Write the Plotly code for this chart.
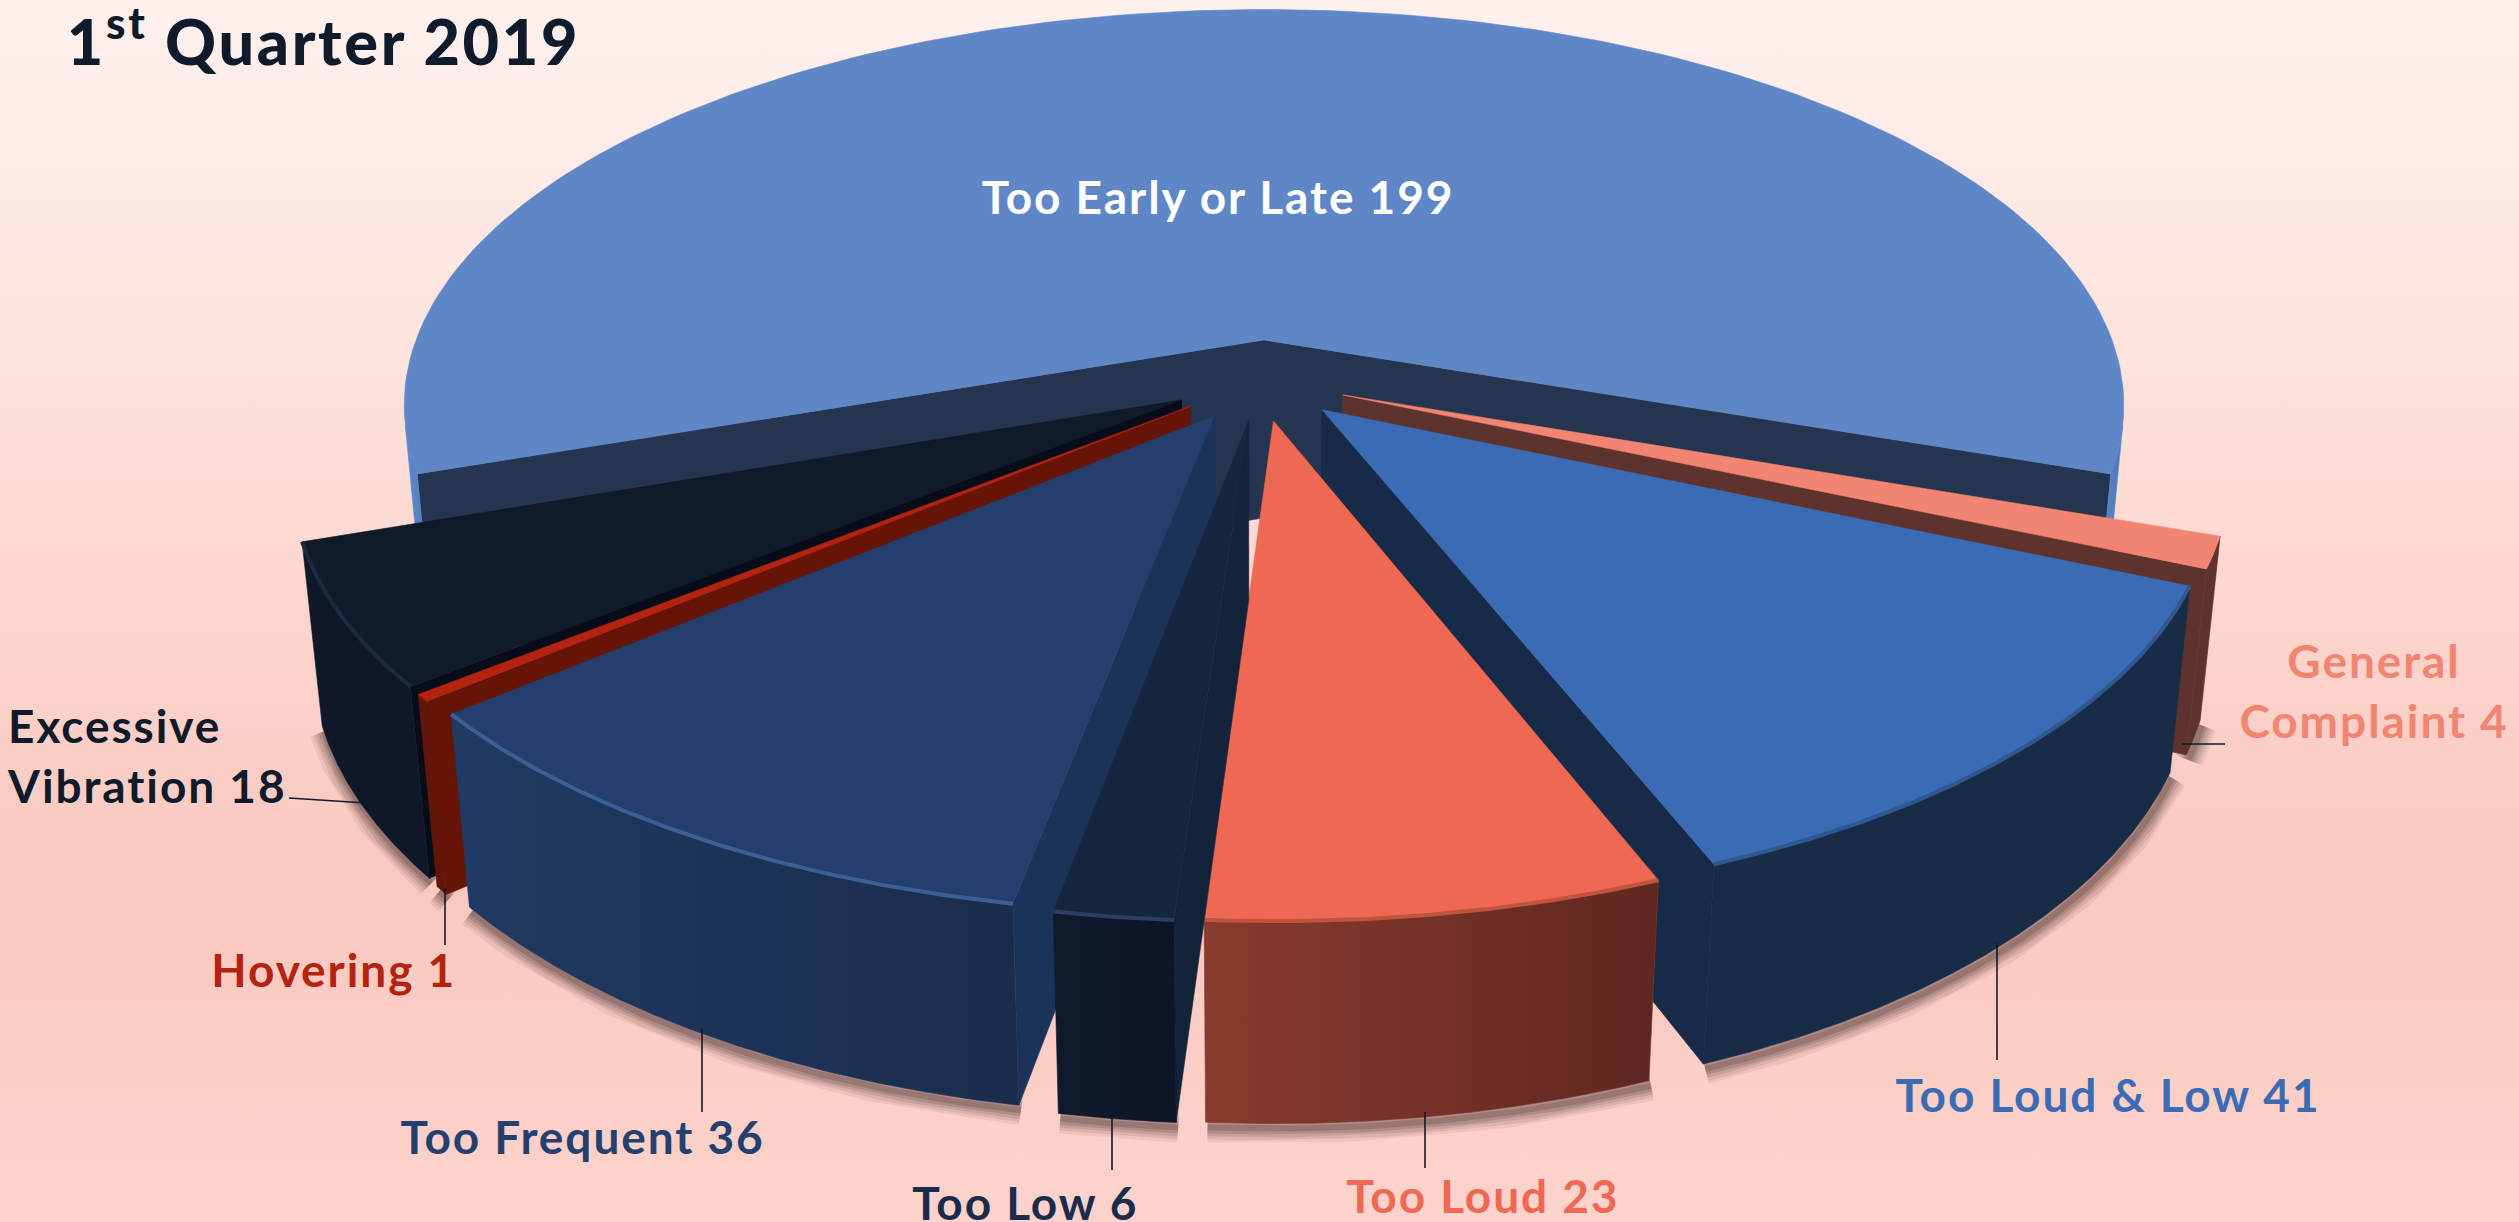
#!/usr/bin/env python

"""3D exploded pie of complaints, 1st quarter 2019, drawn as projected polygons."""

import numpy as np
import plotly.graph_objects as go

W, H = 2519, 1222

# data, clockwise from the big slice
categories = ["Too Early or Late", "General Complaint", "Too Loud & Low", "Too Loud",
              "Too Low", "Too Frequent", "Hovering", "Excessive Vibration"]
values = [199, 4, 41, 23, 6, 36, 1, 18]

# styles per slice
explode = [0, 0.105, 0.105, 0.105, 0.105, 0.105, 0.105, 0.105]
drop = [0, 0.053, 0.053, 0.053, 0.053, 0.053, 0.053, 0.053]
radius = [1, 1.027, 1.027, 1.027, 1.027, 1.027, 1.027, 1.027]
nudge = [0, -0.005, -0.005, -0.005, -0.005, -0.005, -0.005, -0.005]
top_colors = ["#5F87C8", "#F28572", "#3B6BB4", "#EE6853", "#17263F", "#243F6E", "#B32310", "#0F1A2B"]
cut_colors = ["#25354F", "#5F332D", "#172B48", "#5F2A22", "#12233A", "#1B3358", "#651407", "#070D18"]
rim_colors = [("#5C8AD0", "#4F79B8"), ("#5F332D", "#5F332D"), ("#182B47", "#182B47"),
              ("#8A3B2F", "#5E2720"), ("#0F1A2D", "#0D1625"), ("#1F3A63", "#1A2C4B"),
              ("#64150A", "#64150A"), ("#0E1828", "#0E1828")]
edge_colors = [None, None, "#2F5790", "#C2533F", "#2A3F63", "#3C5F96", None, "#1A2A42"]
label_colors = ["#FFFFFF", "#F28572", "#3B6BB4", "#EE6853", "#1A2C4B", "#24406E", "#B32310", "#0F1A2B"]

# label text, centre position in page pixels, alignment
label_text = ["Too Early or Late 199", "General<br>Complaint 4", "Too Loud & Low 41", "Too Loud 23",
              "Too Low 6", "Too Frequent 36", "Hovering 1", "Excessive<br>Vibration 18"]
label_x = [1218, 2374, 2108, 1483, 1025, 582, 333, 5]
label_y = [196, 690, 1094, 1195, 1202, 1136, 969, 755]
label_anchor = ["center", "center", "center", "center", "center", "center", "center", "left"]

# leader lines in page pixels
leaders = [((289, 798), (366, 803)), ((445, 888), (445, 945)), ((702, 1028), (702, 1112)),
           ((1112, 1113), (1112, 1170)), ((1425, 1112), (1425, 1168)),
           ((1997, 943), (1997, 1060)), ((2182, 744), (2225, 744))]

# camera
CX, CY = 1264, 340
D, TILT = 5.4, np.radians(27)
F = 848 * D
THICK = 0.24
S, C = np.sin(TILT), np.cos(TILT)


def project(x, y, z):
    d = D + y * C - z * S
    return CX + F * x / d, CY - F * (y * S + z * C) / d


def area(px, py):
    return 0.5 * np.sum(px * np.roll(py, -1) - np.roll(px, -1) * py)


fig = go.Figure()


def poly(px, py, color, grad=None):
    kw = {}
    if grad:
        kw["fillgradient"] = dict(type="horizontal", colorscale=[[0, grad[0]], [1, grad[1]]])
    else:
        kw["fillcolor"] = color
    fig.add_trace(go.Scatter(x=np.r_[px, px[0]], y=np.r_[py, py[0]], mode="lines", fill="toself",
                             line=dict(color=color, width=0.6), hoverinfo="skip", **kw))


# page background
fig.add_trace(go.Scatter(x=[0, W, W, 0, 0], y=[0, 0, H, H, 0], mode="lines", fill="toself",
                         line=dict(width=0), hoverinfo="skip",
                         fillgradient=dict(type="vertical", colorscale=[
                             [0, "#FDD3CC"], [0.28, "#FAC8BE"], [0.72, "#FEE3DE"], [1, "#FFF1EE"]])))

total = sum(values)
spans = np.array(values) / total * 2 * np.pi
start = -spans[0] / 2
slices = []
for i in range(len(values)):
    a0, a1 = start, start + spans[i]
    start = a1
    mid = (a0 + a1) / 2
    slices.append(dict(i=i, a0=a0, a1=a1, ox=explode[i] * np.sin(mid) + nudge[i], oy=explode[i] * np.cos(mid),
                       z=-drop[i], mid=mid, r=radius[i]))


def rim(s, n=160):
    a = np.linspace(s["a0"], s["a1"], n)
    return a, s["ox"] + s["r"] * np.sin(a), s["oy"] + s["r"] * np.cos(a)


# soft shadows on the floor
for s in slices[1:]:
    a, x, y = rim(s)
    vis = y < -0.05
    px, py = project(x[vis], y[vis], np.full(vis.sum(), s["z"] - THICK))
    for width, alpha in [(30, 0.07), (24, 0.10), (18, 0.13), (12, 0.16), (6, 0.2)]:
        fig.add_trace(go.Scatter(x=px + 2, y=py + 5, mode="lines", hoverinfo="skip",
                                 line=dict(color=f"rgba(60,35,35,{alpha})", width=width)))

# back slices first
order = [slices[0]] + sorted(slices[1:], key=lambda s: -abs(np.degrees(s["mid"] % (2 * np.pi)) - 180))
for s in order:
    i = s["i"]
    zt, zb = s["z"], s["z"] - THICK
    a, x, y = rim(s)

    # the two cut faces
    for k, sign in [(0, 1), (-1, -1)]:
        wx = np.array([s["ox"], x[k], x[k], s["ox"]])
        wy = np.array([s["oy"], y[k], y[k], s["oy"]])
        wz = np.array([zt, zt, zb, zb])
        px, py = project(wx, wy, wz)
        if sign * area(px, py) < 0:
            poly(px, py, cut_colors[i])

    # outer wall, only where it faces the camera
    facing = -(x - s["ox"]) * x - (y - s["oy"]) * (y + D * C) > 0
    idx = np.where(facing)[0]
    runs = np.split(idx, np.where(np.diff(idx) > 1)[0] + 1) if len(idx) else []
    for run in runs:
        tx, ty = project(x[run], y[run], np.full(len(run), zt))
        bx, by = project(x[run], y[run], np.full(len(run), zb))
        poly(np.r_[tx, bx[::-1]], np.r_[ty, by[::-1]], rim_colors[i][0], grad=rim_colors[i])

    # top face
    px, py = project(np.r_[s["ox"], x], np.r_[s["oy"], y], np.full(len(x) + 1, zt))
    poly(px, py, top_colors[i])

    # bevel along the front edge
    if edge_colors[i]:
        for run in runs:
            tx, ty = project(x[run], y[run], np.full(len(run), zt))
            fig.add_trace(go.Scatter(x=tx, y=ty, mode="lines", hoverinfo="skip",
                                     line=dict(color=edge_colors[i], width=4)))

for (x0, y0), (x1, y1) in leaders:
    fig.add_shape(type="line", x0=x0, y0=y0, x1=x1, y1=y1, xref="x", yref="y",
                  line=dict(color="#0F1A2B", width=1.6))

FONT = "Lato"
for text, lx, ly, anchor, color in zip(label_text, label_x, label_y, label_anchor, label_colors):
    fig.add_annotation(x=lx, y=ly, text=f"<b>{text}</b>", showarrow=False, xanchor=anchor, yanchor="middle",
                       align=anchor, font=dict(family=FONT, size=46, color=color))

fig.add_annotation(x=86, y=36, text="1<sup>st</sup> Quarter 2019", showarrow=False, xanchor="left",
                   yanchor="middle", font=dict(family=FONT, size=63, color="#0F1A2B", weight=900))

fig.update_layout(width=W, height=H, margin=dict(l=0, r=0, t=0, b=0), showlegend=False,
                  paper_bgcolor="#FDD8D1", plot_bgcolor="#FDD8D1")
fig.update_xaxes(range=[0, W], visible=False)
fig.update_yaxes(range=[H, 0], visible=False)

# page margin off, wider tracking like the original lettering
css = "body{margin:0;overflow:hidden}.annotation-text{letter-spacing:.042em}"
post = f"var st=document.createElement('style');st.textContent='{css}';document.head.appendChild(st);"
fig.write_html("out.html", config={"displayModeBar": False}, post_script=post)
